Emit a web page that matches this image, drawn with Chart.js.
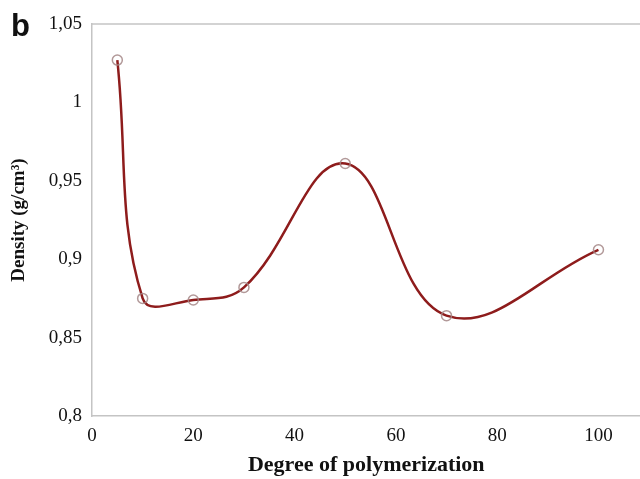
<!DOCTYPE html>
<html>
<head>
<meta charset="utf-8">
<script src="https://cdn.jsdelivr.net/npm/chart.js@4"></script>
<style>
  html, body { margin: 0; padding: 0; background: #fff; }
  #wrap { position: relative; width: 640px; height: 479px; overflow: hidden; }
  #chart { position: absolute; left: 0; top: 0; }
  #panel { position: absolute; left: 11px; top: 10px; font: bold 31px/1 "Liberation Sans", Arial, sans-serif; color: #111; }
</style>
</head>
<body>
<div id="wrap">
  <canvas id="chart" width="647" height="479"></canvas>
  <div id="panel">b</div>
</div>
<script>
// degree of polymerization vs measured density
const dp      = [5, 10, 20, 30, 50, 70, 100];
const density = [1.027, 0.875, 0.874, 0.882, 0.961, 0.864, 0.906];

const serif = '"Liberation Serif", "Times New Roman", serif';
const frame = '#c4c4c4';

// frame line along the top of the plot area
const topBorder = {
  id: 'topBorder',
  afterDraw(chart) {
    const { ctx, chartArea } = chart;
    ctx.save();
    ctx.strokeStyle = frame;
    ctx.lineWidth = 1.5;
    ctx.beginPath();
    ctx.moveTo(chartArea.left, chartArea.top);
    ctx.lineTo(chartArea.right + 10, chartArea.top);
    ctx.stroke();
    ctx.restore();
  }
};

const fmt = v => {
  let s = Number(v).toFixed(2).replace(/0+$/, '').replace(/\.$/, '');
  return s.replace('.', ',');
};

new Chart(document.getElementById('chart').getContext('2d'), {
  type: 'line',
  data: {
    datasets: [{
      data: dp.map((x, i) => ({ x, y: density[i] })),
      borderColor: '#8e1c1c',
      borderWidth: 2.5,
      tension: 0.4,
      pointRadius: 5,
      pointBorderWidth: 1.5,
      pointBorderColor: 'rgba(165,135,135,0.85)',
      pointBackgroundColor: 'rgba(255,255,255,0)'
    }]
  },
  options: {
    responsive: false,
    animation: false,
    layout: { padding: { top: 24, left: 0, right: 0, bottom: 0 } },
    plugins: { legend: { display: false }, tooltip: { enabled: false } },
    scales: {
      x: {
        type: 'linear',
        min: 0, max: 108.3,
        grid: { display: false, drawTicks: false },
        border: { color: frame, width: 1.5 },
        ticks: { stepSize: 20, includeBounds: false, color: '#111', padding: 9, font: { family: serif, size: 19 } },
        title: { display: true, text: 'Degree of polymerization', color: '#111', padding: { top: 0, bottom: 0 }, font: { family: serif, size: 22, weight: 'bold' } },
        afterFit: s => { s.height = 63; }
      },
      y: {
        min: 0.8, max: 1.05,
        grid: { display: false, drawTicks: false },
        border: { color: frame, width: 1.5 },
        ticks: { stepSize: 0.05, color: '#111', padding: 10, font: { family: serif, size: 19 }, callback: v => fmt(v) },
        title: { display: true, text: 'Density (g/cm³)', color: '#111', padding: { top: 8, bottom: 0 }, font: { family: serif, size: 19, weight: 'bold' } },
        afterFit: s => { s.width = 92; }
      }
    }
  },
  plugins: [topBorder]
});
</script>
</body>
</html>
